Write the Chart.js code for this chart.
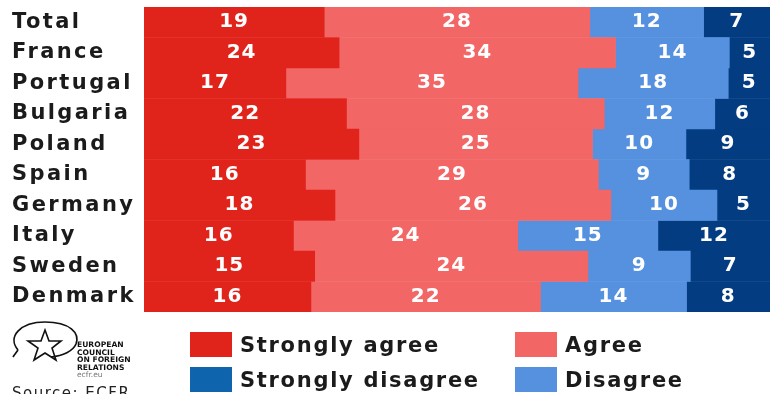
<!DOCTYPE html>
<html>
<head>
<meta charset="utf-8">
<script src="https://cdn.jsdelivr.net/npm/chart.js@4.4.0/dist/chart.umd.min.js"></script>
<style>
  body { margin: 0; background: #fff; width: 770px; height: 394px; overflow: hidden; position: relative; font-family: "DejaVu Sans", sans-serif; }
  #wrap { position: absolute; left: 0; top: 0; width: 770px; height: 394px; }
  .leg { position: absolute; display: flex; align-items: center; font-weight: bold; font-size: 21px; letter-spacing: 1.7px; color: #1b1b1b; white-space: nowrap; }
  .leg span.sw { display: inline-block; width: 42px; height: 25px; margin-right: 8px; }
  #logo { position: absolute; left: 10px; top: 318px; }
  #source { position: absolute; left: 12px; top: 384px; font-size: 15px; letter-spacing: 1.5px; color: #222; }
</style>
</head>
<body>
<div id="wrap"><canvas id="myChart"></canvas></div>
<div id="legend"></div>
<svg id="logo" width="140" height="64" viewBox="0 0 140 64">
  <path d="M8,32 C-3,19 10,4 35,4 C60,4 70,15 66,26 C63,33 53,38 41,39" fill="none" stroke="#111" stroke-width="1.7"/>
  <path d="M8,32 C6,35 4,37 3,39" fill="none" stroke="#111" stroke-width="1.7"/>
  <path d="M35,12 L39,23 L51,23 L42,30 L46,42 L35,35 L24,42 L28,30 L18,23 L31,23 Z" fill="none" stroke="#111" stroke-width="1.6"/>
  <g font-family="DejaVu Sans, sans-serif" font-weight="bold" font-size="7.6" fill="#111">
    <text x="67" y="29">EUROPEAN</text>
    <text x="67" y="36.5">COUNCIL</text>
    <text x="67" y="44">ON FOREIGN</text>
    <text x="67" y="51.5">RELATIONS</text>
  </g>
  <text x="67" y="59" font-family="DejaVu Sans, sans-serif" font-size="7.5" fill="#777">ecfr.eu</text>
</svg>
<div id="source">Source: ECFR</div>
<script>
const countries = ["Total", "France", "Portugal", "Bulgaria", "Poland", "Spain", "Germany", "Italy", "Sweden", "Denmark"];
const stronglyAgree = [19, 24, 17, 22, 23, 16, 18, 16, 15, 16];
const agree = [28, 34, 35, 28, 25, 29, 26, 24, 24, 22];
const disagree = [12, 14, 18, 12, 10, 9, 10, 15, 9, 14];
const stronglyDisagree = [7, 5, 5, 6, 9, 8, 5, 12, 7, 8];

const seriesNames = ["Strongly agree", "Agree", "Disagree", "Strongly disagree"];
const barColors = ["#e0241b", "#f26666", "#5591de", "#033c80"];
const legendColors = ["#e0241b", "#f26666", "#5591de", "#0f65ad"];

const raw = [stronglyAgree, agree, disagree, stronglyDisagree];
const rowSums = countries.map((c, i) => raw.reduce((s, arr) => s + arr[i], 0));

// each row is shown as share of the answers given
const datasets = raw.map((arr, k) => ({
  label: seriesNames[k],
  data: arr.map((v, i) => v / rowSums[i] * 100),
  rawValues: arr,
  backgroundColor: barColors[k],
  borderWidth: 0,
  barPercentage: 1,
  categoryPercentage: 1
}));

const spacing = {
  id: "spacing",
  beforeDraw(chart) { chart.ctx.letterSpacing = "2.4px"; }
};

const valueLabels = {
  id: "valueLabels",
  afterDatasetsDraw(chart) {
    const ctx = chart.ctx;
    ctx.save();
    ctx.fillStyle = "#fff";
    ctx.font = "bold 20px 'DejaVu Sans', sans-serif";
    ctx.letterSpacing = "1px";
    ctx.textAlign = "center";
    ctx.textBaseline = "middle";
    chart.data.datasets.forEach((ds, k) => {
      chart.getDatasetMeta(k).data.forEach((bar, i) => {
        const cx = (bar.x + bar.base) / 2;
        ctx.fillText(ds.rawValues[i], cx, bar.y);
      });
    });
    ctx.restore();
  }
};

new Chart("myChart", {
  type: "bar",
  data: { labels: countries, datasets: datasets },
  plugins: [spacing, valueLabels],
  options: {
    indexAxis: "y",
    responsive: true,
    maintainAspectRatio: false,
    animation: false,
    layout: { padding: { top: 7, bottom: 82, left: 12, right: 0 } },
    plugins: { legend: { display: false }, tooltip: { enabled: false } },
    scales: {
      x: { stacked: true, min: 0, max: 100, display: false },
      y: {
        stacked: true,
        grid: { display: false },
        border: { display: false },
        ticks: {
          color: "#1b1b1b",
          font: { family: "'DejaVu Sans', sans-serif", size: 21, weight: "bold" },
          crossAlign: "far",
          padding: 8
        },
        afterFit(scale) {
          scale.width = 132;
          scale.paddingTop = 0;
          scale.paddingBottom = 0;
        }
      }
    }
  }
});

// legend laid out as in the picture: two columns, two rows
const legendOrder = [0, 1, 3, 2];
const legendPos = [[190, 332], [515, 332], [190, 367], [515, 367]];
const legendBox = document.getElementById("legend");
legendOrder.forEach((k, n) => {
  const d = document.createElement("div");
  d.className = "leg";
  d.style.left = legendPos[n][0] + "px";
  d.style.top = legendPos[n][1] + "px";
  d.innerHTML = '<span class="sw" style="background:' + legendColors[k] + '"></span>' + seriesNames[k];
  legendBox.appendChild(d);
});
</script>
</body>
</html>
